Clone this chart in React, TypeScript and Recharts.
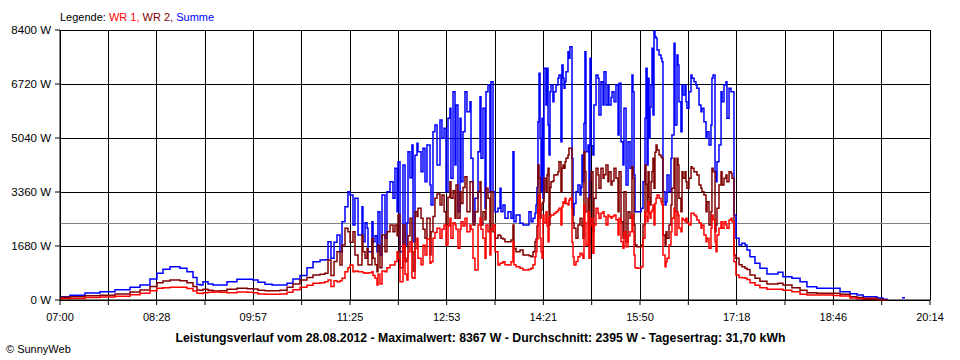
import React from 'react';
import { LineChart, Line, XAxis, YAxis, CartesianGrid, ReferenceLine } from 'recharts';

// minutes after 07:00
const minutes = [
  0, 9.1, 22.8, 36.5, 50.2, 63.9, 73.0, 82.1, 88.5, 94.0,
  100.4, 109.5, 115.9, 121.4, 125.0, 127.8, 130.5, 135.1, 139.6, 146.0,
  152.4, 161.5, 170.7, 176.1, 180.7, 187.1, 193.5, 200.8, 207.2, 212.6,
  219.0, 225.4, 230.9, 237.3, 241.8, 244.6, 247.3, 250.1, 252.8, 255.5,
  257.4, 260.1, 262.8, 264.7, 267.4, 269.2, 272.0, 275.6, 276.5, 278.4,
  280.2, 281.1, 284.7, 285.7, 287.5, 289.3, 290.2, 292.0, 293.9, 296.6,
  298.4, 301.2, 303.9, 305.7, 307.6, 308.5, 310.3, 313.0, 314.9, 316.7,
  317.6, 319.4, 321.2, 322.2, 324.0, 325.8, 326.7, 329.5, 331.3, 333.1,
  334.9, 337.7, 338.6, 340.4, 342.2, 344.1, 346.8, 348.6, 350.5, 352.3,
  354.1, 355.9, 356.8, 358.7, 360.5, 361.4, 363.2, 365.1, 366.0, 367.8,
  369.6, 371.4, 374.2, 375.1, 376.9, 378.7, 381.5, 383.3, 384.2, 386.0,
  387.9, 388.8, 390.6, 392.4, 393.3, 395.2, 397.0, 399.7, 401.6, 402.5,
  404.3, 406.1, 408.9, 411.6, 413.4, 414.3, 416.2, 419.8, 422.6, 425.3,
  428.0, 429.9, 431.7, 433.5, 434.4, 435.3, 436.2, 437.2, 438.1, 439.0,
  439.9, 440.8, 441.7, 443.5, 444.5, 445.4, 446.3, 447.2, 448.1, 449.9,
  450.8, 452.7, 454.5, 455.4, 457.2, 458.1, 459.1, 460.0, 460.9, 461.8,
  463.6, 464.5, 465.4, 467.3, 468.2, 469.1, 470.9, 472.7, 474.6, 475.5,
  476.4, 477.3, 478.2, 479.1, 480.0, 481.9, 482.8, 483.7, 484.6, 486.4,
  487.3, 489.2, 491.0, 491.9, 493.7, 495.6, 496.5, 498.3, 500.1, 501.0,
  502.9, 503.8, 505.6, 507.4, 509.3, 510.2, 512.0, 513.8, 514.7, 516.6,
  518.4, 520.2, 522.0, 522.9, 523.9, 524.8, 526.6, 530.3, 532.1, 533.9,
  534.8, 535.8, 536.7, 537.6, 538.5, 539.4, 540.3, 541.2, 542.1, 543.0,
  544.0, 544.9, 546.7, 548.5, 549.4, 550.3, 552.2, 553.1, 554.0, 555.8,
  557.6, 558.5, 560.4, 561.3, 563.1, 564.0, 564.9, 566.7, 567.7, 568.6,
  570.4, 571.3, 572.2, 574.0, 575.9, 576.8, 578.6, 580.4, 581.3, 583.2,
  585.0, 585.9, 587.7, 589.6, 590.5, 592.3, 594.1, 595.0, 596.0, 597.8,
  598.7, 599.6, 601.4, 603.3, 604.2, 606.0, 607.8, 608.7, 610.6, 612.4,
  613.3, 615.1, 616.9, 619.7, 622.4, 625.2, 627.0, 629.7, 634.3, 638.8,
  645.2, 650.7, 655.3, 659.8, 668.0, 675.4, 681.7, 690.6, 705.5, 711.9,
  721.0, 727.4, 733.0, 745.6, 751.1, 754.7, 762.0, 768.4, 771.2,
];

const summe = [
  100, 150, 220, 260, 320, 400, 470, 650, 830, 960,
  1036, 985, 880, 700, 480, 467, 570, 500, 467, 467,
  570, 643, 643, 622, 550, 490, 467, 470, 518, 650,
  760, 1000, 1192, 1244, 1250, 1815, 1300, 1800, 2022, 1500,
  2437, 2903, 3370, 3266, 2333, 3163, 2022, 2903, 1815, 2400,
  2230, 1503, 2437, 1815, 2000, 1503, 2748, 1400, 3266, 1919,
  3370, 3681, 3163, 4096, 2748, 4304, 1503, 4200, 1711, 2400,
  4615, 3800, 4822, 1815, 4500, 4874, 4615, 3992, 4718, 3681,
  4822, 3577, 2955, 5236, 5444, 4200, 5600, 5029, 5340, 3370,
  5652, 5963, 3785, 6481, 4200, 6067, 2748, 5652, 3681, 5236,
  6481, 5859, 6170, 4407, 2437, 3163, 4615, 6326, 4407, 5963,
  2852, 6481, 6689, 3370, 6792, 3370, 2748, 2852, 3474, 2748,
  2955, 2540, 2748, 2540, 4615, 2437, 2644, 2385, 2333, 2333,
  2748, 2437, 2540, 2700, 2955, 3500, 5548, 7052, 5029, 3370,
  5652, 3163, 7207, 6067, 7207, 5444, 4511, 6481, 6689, 6170,
  6481, 6689, 6896, 7000, 4926, 7311, 6900, 6585, 6800, 7104,
  7726, 7518, 7881, 4407, 2644, 3000, 3370, 3577, 3266, 3500,
  4511, 3681, 5500, 7726, 4615, 4822, 3163, 7518, 4800, 4511,
  6067, 7000, 6896, 5755, 6792, 6067, 7104, 6067, 6689, 6067,
  6300, 6481, 6170, 6689, 5133, 6741, 4926, 4200, 5963, 3577,
  4926, 4096, 7000, 6481, 3889, 2748, 2748, 2852, 3681, 5652,
  7207, 4200, 6896, 5029, 6000, 6689, 7829, 5755, 8367, 8192,
  8141, 7778, 7622, 7518, 7415, 3370, 2955, 3059, 3889, 3370,
  4407, 5133, 7985, 5444, 7622, 7311, 6170, 5236, 6689, 6378,
  6689, 6170, 5963, 6481, 7000, 6896, 6792, 6689, 6585, 6067,
  5859, 5963, 5548, 5029, 5236, 4822, 5444, 6896, 7000, 3992,
  3681, 4304, 4822, 6481, 6170, 6689, 6792, 5652, 6585, 6481,
  6481, 2644, 1919, 1711, 1763, 1711, 1555, 1348, 1140, 985,
  809, 809, 861, 726, 674, 570, 415, 363, 363, 259,
  197, 155, 104, 62, 21, 0, null, 70, 70,
];

const wr2 = [
  84, 100, 130, 150, 190, 250, 310, 420, 540, 590,
  622, 601, 540, 420, 311, 300, 332, 300, 280, 285,
  332, 363, 350, 342, 300, 290, 290, 300, 394, 500,
  622, 700, 778, 799, 830, 1244, 760, 1200, 1503, 1089,
  1711, 2230, 2126, 1800, 2126, 1400, 1089, 2022, 1500, 1296,
  1600, 1100, 1919, 1296, 1100, 881, 1700, 1000, 2022, 1500,
  2126, 2333, 2126, 2333, 2000, 2644, 1000, 2333, 1200, 1300,
  2000, 2540, 1500, 900, 2748, 2600, 2852, 2540, 2200, 1919,
  2540, 1400, 2126, 2600, 3163, 3300, 2955, 3266, 2748, 2333,
  3200, 3681, 3163, 3400, 2540, 3577, 2540, 3370, 3000, 3500,
  3837, 2748, 3681, 3681, 2333, 2748, 3370, 3681, 2333, 2748,
  2500, 3474, 3163, 2126, 3370, 2126, 1919, 2022, 2000, 1919,
  1900, 1815, 1815, 1867, 2333, 1600, 1503, 1555, 1400, 1400,
  1380, 1348, 1500, 1815, 1900, 2300, 4200, 3800, 2540, 2800,
  3000, 3059, 3785, 3370, 3900, 4096, 2333, 3500, 3681, 3700,
  3889, 3900, 3992, 4304, 3370, 4100, 4200, 4100, 4300, 4407,
  4500, 4718, 4718, 2852, 2400, 2230, 1919, 2333, 2540, 2540,
  2300, 1919, 4615, 4000, 2748, 3163, 1711, 3700, 3992, 2126,
  3163, 4096, 3889, 3474, 4096, 3785, 3900, 4200, 3681, 3992,
  3577, 3700, 4096, 3785, 2748, 3992, 2437, 1919, 3370, 1815,
  2748, 2540, 4148, 3785, 2333, 1711, 1659, 1711, 2333, 4200,
  3600, 2748, 3992, 3200, 2955, 3681, 4000, 4407, 3474, 4600,
  4822, 4667, 4511, 4459, 4407, 2022, 1711, 2126, 1919, 2333,
  2955, 3474, 4407, 2748, 4407, 4200, 3163, 2748, 3992, 3785,
  3992, 3681, 3474, 3785, 4148, 4096, 3992, 3992, 3889, 3577,
  3474, 3370, 3266, 2748, 3059, 2333, 2748, 4096, 3992, 2126,
  2333, 2852, 3577, 3992, 3577, 3785, 3889, 3681, 3992, 3940,
  3785, 1400, 1296, 1100, 1037, 985, 950, 778, 680, 580,
  498, 498, 518, 470, 384, 300, 228, 207, 207, 180,
  104, 80, 52, 20, 10, 0, null, null, null,
];

const wr1 = [
  40, 50, 80, 95, 120, 160, 210, 290, 363, 385,
  394, 394, 360, 280, 208, 200, 229, 240, 249, 240,
  229, 249, 240, 229, 190, 176, 176, 190, 239, 320,
  394, 460, 518, 540, 570, 622, 420, 600, 570, 600,
  674, 881, 1000, 1089, 881, 900, 881, 881, 850, 830,
  830, 850, 881, 760, 674, 467, 800, 500, 900, 881,
  1000, 1089, 1089, 1200, 1503, 1300, 570, 1711, 800, 622,
  1500, 1815, 700, 674, 1600, 1919, 1296, 1100, 1700, 1400,
  1900, 1140, 1192, 1919, 2100, 2230, 1919, 2200, 2333, 1711,
  2300, 2540, 1919, 2400, 2333, 2200, 1607, 2200, 2437, 2300,
  2540, 2126, 2333, 2200, 1296, 933, 2333, 2540, 2200, 1919,
  1296, 2333, 2126, 1400, 2200, 2333, 1503, 1089, 1140, 1150,
  1192, 1100, 1089, 1192, 1815, 1100, 1037, 985, 933, 933,
  960, 985, 1100, 1348, 1500, 1900, 2800, 3266, 1919, 1500,
  1296, 2644, 2400, 2748, 2300, 1815, 2540, 2600, 2644, 2644,
  2700, 2748, 2800, 2852, 2333, 2900, 3059, 3000, 3163, 3000,
  2955, 3100, 3163, 1800, 1348, 1089, 1200, 1348, 1451, 1451,
  1400, 1296, 2955, 2400, 1711, 2748, 1296, 2300, 2540, 1451,
  2333, 2852, 2700, 2540, 2700, 2748, 2600, 2333, 2644, 2600,
  2540, 2600, 2644, 2500, 2022, 2540, 1815, 1607, 2126, 1659,
  2000, 2126, 2644, 2126, 1400, 1000, 985, 1037, 1919, 2748,
  2600, 2437, 3059, 2700, 2540, 2748, 2800, 2955, 2333, 3000,
  3163, 3266, 3163, 3059, 2955, 1400, 1037, 1192, 1296, 1711,
  2126, 2540, 2852, 2022, 2748, 2644, 2230, 2126, 2540, 2500,
  2437, 2540, 2400, 2333, 2696, 2700, 2644, 2600, 2488, 2400,
  2230, 2333, 2022, 1815, 1919, 1607, 2230, 2644, 2500, 1815,
  1503, 2022, 2230, 2437, 2230, 2437, 2333, 2230, 2488, 2540,
  2437, 1192, 778, 700, 695, 674, 640, 540, 460, 380,
  332, 332, 332, 300, 259, 180, 155, 155, 140, 124,
  62, 40, 21, 5, 0, 0, null, null, null,
];

const timeLabels = ['07:00', '08:28', '09:57', '11:25', '12:53', '14:21', '15:50', '17:18', '18:46', '20:14'];
const yTicks = [0, 1680, 3360, 5040, 6720, 8400];
const average = 2395;
const dayLength = 794; // 07:00 - 20:14
const xTicks = Array.from({ length: 19 }, (_, i) => (i * dayLength) / 18);

const data = minutes.map((t, i) => ({ t, summe: summe[i], wr2: wr2[i], wr1: wr1[i] }));

if (typeof document !== 'undefined') document.body.style.margin = '0';

const font = '"Liberation Sans", Arial, sans-serif';

const App: React.FC = () => (
  <div style={{ position: 'relative', width: 960, height: 360, background: '#fff', fontFamily: font }}>
    <LineChart width={960} height={360} data={data} margin={{ top: 30, right: 30, bottom: 0, left: 0 }}>
      <CartesianGrid stroke="#000" shapeRendering="crispEdges" />
      <XAxis
        type="number"
        dataKey="t"
        domain={[0, dayLength]}
        ticks={xTicks}
        interval={0}
        height={60}
        stroke="#000"
        tickSize={5}
        tickMargin={8}
        tick={{ fill: '#000', fontSize: 11 }}
        tickFormatter={(_v: number, i: number) => (i % 2 === 0 ? timeLabels[i / 2] : '')}
      />
      <YAxis
        domain={[0, 8400]}
        ticks={yTicks}
        width={60}
        stroke="#000"
        tickSize={5}
        tickMargin={4}
        tick={{ fill: '#000', fontSize: 11.5 }}
        tickFormatter={(v: number) => `${v} W`}
      />
      <ReferenceLine y={average} stroke="#808080" shapeRendering="crispEdges" />
      <Line type="stepAfter" dataKey="summe" stroke="#0000ff" strokeWidth={1.5} dot={false} activeDot={false} isAnimationActive={false} />
      <Line type="stepAfter" dataKey="wr2" stroke="#800000" strokeWidth={1.5} dot={false} activeDot={false} isAnimationActive={false} />
      <Line type="stepAfter" dataKey="wr1" stroke="#ff0000" strokeWidth={1.5} dot={false} activeDot={false} isAnimationActive={false} />
    </LineChart>
    <svg width={960} height={360} style={{ position: 'absolute', left: 0, top: 0, pointerEvents: 'none' }}>
      <text x={60} y={20.5} fontSize={11} fill="#000">
        Legende: <tspan fill="#ff0000">WR 1,</tspan> <tspan fill="#800000">WR 2,</tspan>{' '}
        <tspan fill="#0000ff">Summe</tspan>
      </text>
      <text x={480.5} y={341.5} fontSize={12} fontWeight="bold" textAnchor="middle" textLength={610} lengthAdjust="spacingAndGlyphs">
        Leistungsverlauf vom 28.08.2012 - Maximalwert: 8367 W - Durchschnitt: 2395 W - Tagesertrag: 31,70 kWh
      </text>
      <text x={6} y={352.5} fontSize={11} fill="#000">
        © SunnyWeb
      </text>
    </svg>
  </div>
);

export default App;
